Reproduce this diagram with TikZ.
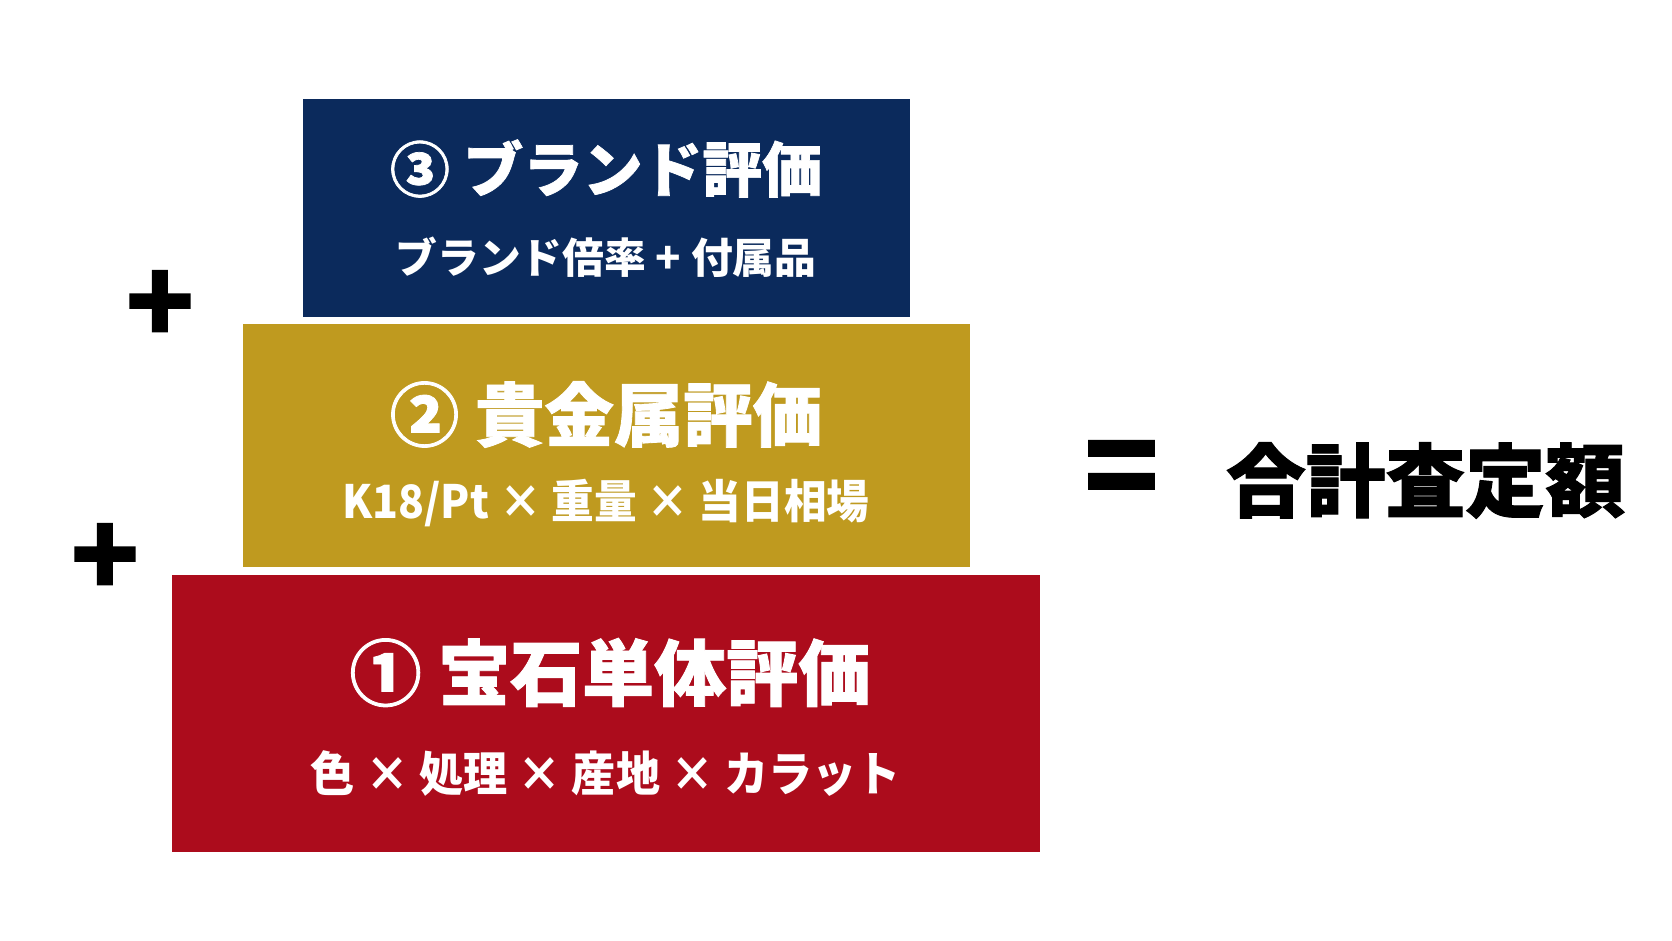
\documentclass[tikz,border=0pt]{standalone}
\usepackage{fontspec}
\newfontfamily\jpfont{Noto Sans CJK JP}
\newfontfamily\jpheavy{Noto Sans CJK JP}[BoldFeatures={FakeBold=1.2}]
\newfontfamily\jpnarrow{Noto Sans CJK JP}[BoldFeatures={FakeStretch=0.93}]
\usetikzlibrary{positioning}
\definecolor{brandblue}{HTML}{0B2A5C}
\definecolor{metalgold}{HTML}{BF9A1F}
\definecolor{gemred}{HTML}{AC0C1C}
\tikzset{
tier/.style={
  rectangle,
  inner sep=0pt,
  outer sep=0pt
},
tiertitle/.style={text=white, inner sep=0pt, font=\jpheavy\bfseries\fontsize{#1}{#1}\selectfont},
tiersub/.style={text=white, inner sep=0pt, font=\jpnarrow\bfseries\fontsize{#1}{#1}\selectfont},
sign/.style={text=black, inner sep=0pt, font=\jpheavy\bfseries\fontsize{#1}{#1}\selectfont},
}

\begin{document}
\begin{tikzpicture}
    \useasboundingbox (0,0) rectangle (33.44,18.82);
    \fill[white] (0,0) rectangle (33.44,18.82);
    % tiers, top to bottom
    \node[tier, fill=brandblue, minimum width=12.14cm, minimum height=4.36cm] (brand) at (12.12,14.66) {};
    \node[tier, fill=metalgold, minimum width=14.54cm, minimum height=4.86cm, below=0.14cm of brand] (metal) {};
    \node[tier, fill=gemred, minimum width=17.36cm, minimum height=5.54cm, below=0.16cm of metal] (gem) {};
    \node[tiertitle=34pt] (brandtitle) at ([yshift=0.79cm]brand.center) {③ ブランド評価};
    \node[tiersub=23.8pt, font=\jpfont\bfseries\fontsize{23.8pt}{23.8pt}\selectfont] (brandsub) at ([yshift=-0.98cm]brand.center) {ブランド倍率 + 付属品};
    \node[tiertitle=39.5pt] (metaltitle) at ([yshift=0.62cm]metal.center) {② 貴金属評価};
    \node[tiersub=26.1pt] (metalsub) at ([yshift=-1.15cm]metal.center) {K18/Pt × 重量 × 当日相場};
    \node[tiertitle=41pt] (gemtitle) at ([xshift=0.08cm,yshift=0.82cm]gem.center) {① 宝石単体評価};
    \node[tiersub=27pt] (gemsub) at ([yshift=-1.2cm]gem.center) {色 × 処理 × 産地 × カラット};
    % signs and result
    \node[sign=64pt] (plusA) at (3.2,12.68) {+};
    \node[sign=64pt] (plusB) at (2.1,7.62) {+};
    \node[sign=70pt] (equals) at (22.43,9.30) {=};
    \node[sign=45.4pt] (total) at (28.51,9.21) {合計査定額};
\end{tikzpicture}
\end{document}
